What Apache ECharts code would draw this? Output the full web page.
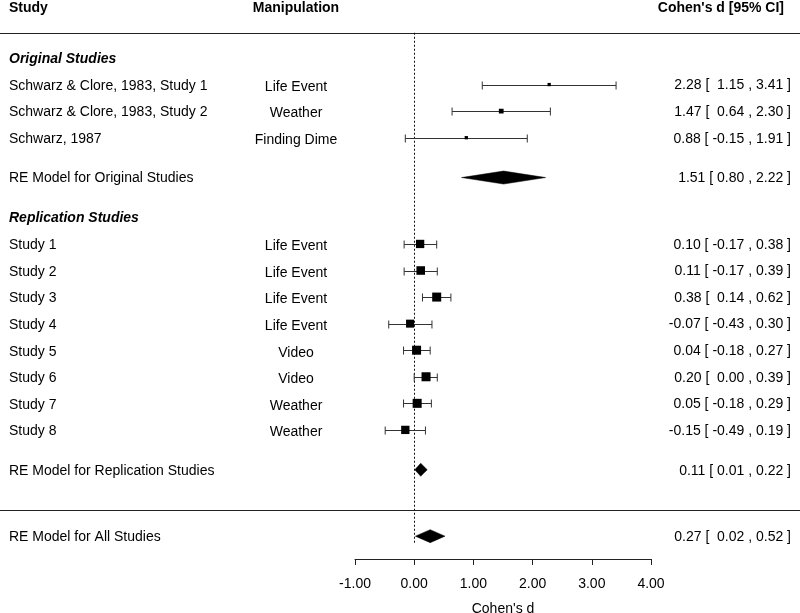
<!DOCTYPE html>
<html><head><meta charset="utf-8">
<script src="https://cdn.jsdelivr.net/npm/echarts@6/dist/echarts.min.js"></script>
<style>html,body{margin:0;padding:0;background:#fff}#c{width:800px;height:613px}</style>
</head><body><div id="c"></div>
<script>
// ---------------- data ----------------
const groupNames = ["Original Studies", "Replication Studies"];
const studyNames = ["Schwarz & Clore, 1983, Study 1", "Schwarz & Clore, 1983, Study 2", "Schwarz, 1987",
  "Study 1", "Study 2", "Study 3", "Study 4", "Study 5", "Study 6", "Study 7", "Study 8"];
const studyGroup = [0, 0, 0, 1, 1, 1, 1, 1, 1, 1, 1];
const manipulations = ["Life Event", "Weather", "Finding Dime",
  "Life Event", "Life Event", "Life Event", "Life Event", "Video", "Video", "Weather", "Weather"];
const estimates = [2.28, 1.47, 0.88, 0.10, 0.11, 0.38, -0.07, 0.04, 0.20, 0.05, -0.15];
const ciLower   = [1.15, 0.64, -0.15, -0.17, -0.17, 0.14, -0.43, -0.18, 0.00, -0.18, -0.49];
const ciUpper   = [3.41, 2.30, 1.91, 0.38, 0.39, 0.62, 0.30, 0.27, 0.39, 0.29, 0.19];
const weights   = [1.7, 3.5, 1.7, 10.8, 11.5, 12.7, 10.0, 12.7, 12.7, 12.7, 10.8]; // relative weights (%)
const summaryNames = ["RE Model for Original Studies", "RE Model for Replication Studies", "RE Model for All Studies"];
const summaryEst   = [1.51, 0.11, 0.27];
const summaryLower = [0.80, 0.01, 0.02];
const summaryUpper = [2.22, 0.22, 0.52];
const xTicks = [-1, 0, 1, 2, 3, 4];
const headers = ["Study", "Manipulation", "Cohen's d [95% CI]"];
const xTitle = "Cohen's d";

// ---------------- layout (rows) ----------------
const studyRows = [], groupRows = [], summaryRows = [];
let row = 0;
groupNames.forEach((g, gi) => {
  groupRows.push(row);
  studyGroup.forEach((sg, i) => { if (sg === gi) { row++; studyRows[i] = row; } });
  summaryRows.push(row + 1.5);
  row += 3;
});
const separatorRow = row;       // line above overall model
summaryRows.push(row + 1);
const topLineRow = -0.95;
const headerRow = -1.92;
const refLineEnd = summaryRows[2] + 0.25;

const FONT = '"Liberation Sans", Arial, Helvetica, sans-serif';
const fmt = v => v.toFixed(2);
const ciText = (e, l, h, pad) => {
  let ls = fmt(l);
  if (pad && l >= 0) ls = " " + ls;
  return fmt(e) + " [ " + ls + " , " + fmt(h) + " ]";
};

// text items
const COL_STUDY = 9, COL_MANIP = 296, COL_RIGHT = 791, COL_HEAD_RIGHT = 784;
const texts = [];
texts.push({ row: headerRow, dy: 1, x: COL_STUDY, align: 'left', text: headers[0], font: 'bold 14px ' + FONT });
texts.push({ row: headerRow, dy: 1, x: COL_MANIP, align: 'center', text: headers[1], font: 'bold 14px ' + FONT });
texts.push({ row: headerRow, dy: 1, x: COL_HEAD_RIGHT, align: 'right', text: headers[2], font: 'bold 14px ' + FONT });
groupNames.forEach((g, gi) => texts.push({ row: groupRows[gi], dy: 1, x: COL_STUDY, align: 'left', text: g, font: 'italic bold 14px ' + FONT }));
studyNames.forEach((s, i) => {
  texts.push({ row: studyRows[i], dy: 1.5, x: COL_STUDY, align: 'left', text: s, font: '14px ' + FONT });
  texts.push({ row: studyRows[i], dy: 2.5, x: COL_MANIP, align: 'center', text: manipulations[i], font: '14px ' + FONT });
  texts.push({ row: studyRows[i], dy: 1, x: COL_RIGHT, align: 'right', text: ciText(estimates[i], ciLower[i], ciUpper[i], true), font: '14px ' + FONT });
});
summaryNames.forEach((s, i) => {
  texts.push({ row: summaryRows[i], dy: 1, x: COL_STUDY, align: 'left', text: s, font: '14px ' + FONT });
  texts.push({ row: summaryRows[i], dy: 1, x: COL_RIGHT, align: 'right', text: ciText(summaryEst[i], summaryLower[i], summaryUpper[i], i === 2), font: '14px ' + FONT });
});

const LINE = '#222';
const chart = echarts.init(document.getElementById('c'), null, { renderer: 'canvas' });
chart.setOption({
  animation: false,
  backgroundColor: '#fff',
  grid: { left: 355, right: 149, top: 31.43, bottom: 54, containLabel: false, outerBoundsMode: 'none' },
  xAxis: {
    type: 'value', min: xTicks[0], max: xTicks[xTicks.length - 1], interval: 1,
    name: xTitle, nameLocation: 'middle', nameGap: 43,
    nameTextStyle: { color: '#000', fontSize: 14, fontFamily: FONT },
    axisLine: { show: true, onZero: false, lineStyle: { color: LINE, width: 1 } },
    axisTick: { show: true, inside: false, length: 6, lineStyle: { color: LINE, width: 1 } },
    axisLabel: { color: '#000', fontSize: 14, fontFamily: FONT, margin: 18, formatter: v => fmt(v) },
    splitLine: { show: false }
  },
  yAxis: {
    type: 'value', inverse: true, min: -1, max: 18.86, show: false,
    axisLine: { show: false }, splitLine: { show: false }
  },
  series: [
    { // separator lines
      type: 'custom', clip: false, silent: true,
      data: [[0, topLineRow], [0, separatorRow]],
      renderItem: (params, api) => {
        const y = Math.round(api.coord([0, api.value(1)])[1]) + 0.5;
        return { type: 'line', shape: { x1: 0, y1: y, x2: 800, y2: y }, style: { stroke: LINE, lineWidth: 1 } };
      }
    },
    { // reference line at 0
      type: 'custom', clip: false, silent: true,
      data: [[0, topLineRow, refLineEnd]],
      renderItem: (params, api) => {
        const p1 = api.coord([api.value(0), api.value(1)]);
        const p2 = api.coord([api.value(0), api.value(2)]);
        const x = Math.round(p1[0]) + 0.5;
        return { type: 'line', shape: { x1: x, y1: p1[1], x2: x, y2: p2[1] }, style: { stroke: '#111', lineWidth: 1, lineDash: [2, 2] } };
      }
    },
    { // confidence intervals
      type: 'custom', clip: false, silent: true,
      data: studyNames.map((s, i) => [ciLower[i], ciUpper[i], studyRows[i]]),
      renderItem: (params, api) => {
        const a = api.coord([api.value(0), api.value(2)]);
        const b = api.coord([api.value(1), api.value(2)]);
        const y = Math.round(a[1]) + 0.5;
        const h = 4;
        const st = { stroke: '#333', lineWidth: 1 };
        return { type: 'group', children: [
          { type: 'line', shape: { x1: a[0], y1: y, x2: b[0], y2: y }, style: st },
          { type: 'line', shape: { x1: a[0], y1: y - h, x2: a[0], y2: y + h }, style: st },
          { type: 'line', shape: { x1: b[0], y1: y - h, x2: b[0], y2: y + h }, style: st }
        ]};
      }
    },
    { // point estimates
      type: 'scatter', silent: true,
      symbol: 'rect',
      data: studyNames.map((s, i) => [estimates[i], studyRows[i], weights[i]]),
      symbolSize: v => 2.53 * Math.sqrt(v[2]),
      itemStyle: { color: '#000', opacity: 1 }
    },
    { // summary diamonds
      type: 'custom', clip: false, silent: true,
      data: summaryNames.map((s, i) => [summaryEst[i], summaryLower[i], summaryUpper[i], summaryRows[i]]),
      renderItem: (params, api) => {
        const c = api.coord([api.value(0), api.value(3)]);
        const l = api.coord([api.value(1), api.value(3)]);
        const r = api.coord([api.value(2), api.value(3)]);
        const h = 6.5;
        return { type: 'polygon', shape: { points: [[l[0], c[1]], [c[0], c[1] - h], [r[0], c[1]], [c[0], c[1] + h]] },
          style: { fill: '#000', stroke: '#000', lineWidth: 0.5 } };
      }
    },
    { // text columns
      type: 'custom', clip: false, silent: true,
      data: texts.map(t => [0, t.row]),
      renderItem: (params, api) => {
        const t = texts[params.dataIndex];
        const y = api.coord([0, api.value(1)])[1] + (t.dy || 0);
        return { type: 'text', x: t.x, y: y,
          style: { text: t.text, font: t.font, fill: '#000', align: t.align, verticalAlign: 'middle' } };
      }
    }
  ]
});
</script>
</body></html>
